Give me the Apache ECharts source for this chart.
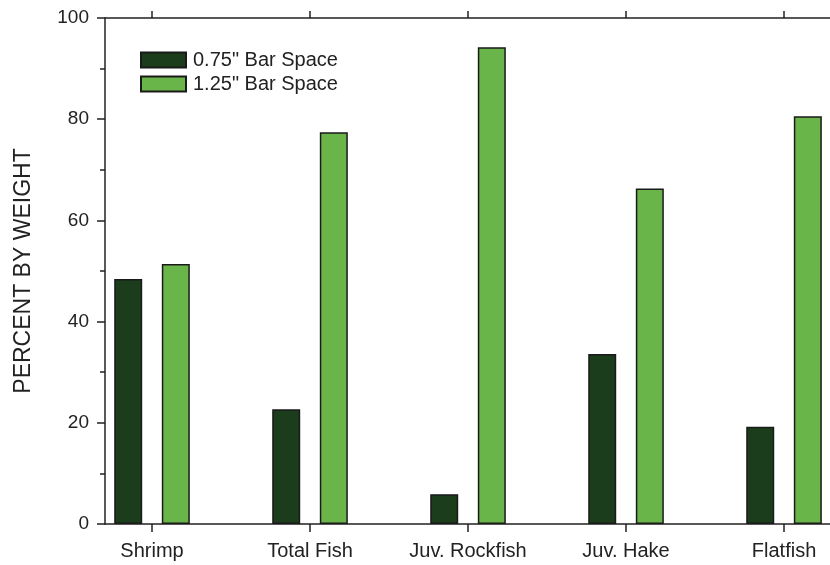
<!DOCTYPE html>
<html>
<head>
<meta charset="utf-8">
<script src="https://cdn.jsdelivr.net/npm/echarts@6/dist/echarts.min.js"></script>
<style>
  html, body { margin: 0; padding: 0; background: #fff; }
  #chart { width: 830px; height: 565px; }
</style>
</head>
<body>
<div id="chart"></div>
<script>
// Catch composition by prey group, two bar spacings
const categories = ['Shrimp', 'Total Fish', 'Juv. Rockfish', 'Juv. Hake', 'Flatfish'];
const seriesNames = ['0.75" Bar Space', '1.25" Bar Space'];
const narrowSpacing = [48.4, 22.7, 5.9, 33.6, 19.2];
const wideSpacing = [51.4, 77.4, 94.2, 66.3, 80.6];
const yTicks = [0, 20, 40, 60, 80, 100];

const FONT = '"Liberation Sans", Arial, sans-serif';
const TEXT = '#222';
const LINE = '#222';
const catIndex = categories.map((_, i) => i);

const toPairs = vals => vals.map((v, i) => [i, v]);

const chart = echarts.init(document.getElementById('chart'), null, { renderer: 'canvas' });

// category slots are 158px apart; the frame starts 47px left of the first slot
const xBase = {
  type: 'value',
  min: -0.2975,
  max: 4.291,
  splitLine: { show: false },
  axisLine: { show: true, onZero: false, lineStyle: { color: LINE, width: 1.5 } }
};

chart.setOption({
  animation: false,
  backgroundColor: '#fff',
  textStyle: { fontFamily: FONT },
  grid: { left: 105, right: 0, top: 18, bottom: 41, containLabel: false },
  legend: {
    left: 135,
    top: 45,
    orient: 'vertical',
    icon: 'rect',
    itemWidth: 45,
    itemHeight: 15,
    itemGap: 4,
    textStyle: { fontFamily: FONT, fontSize: 20, color: TEXT, padding: [0, 0, 0, 2] },
    data: seriesNames
  },
  xAxis: [
    Object.assign({}, xBase, {
      position: 'bottom',
      axisTick: { show: true, customValues: catIndex, length: 8, lineStyle: { color: LINE, width: 1.5 } },
      axisLabel: {
        show: true,
        customValues: catIndex,
        margin: 17,
        fontFamily: FONT,
        fontSize: 20,
        color: TEXT,
        formatter: v => categories[Math.round(v)] || ''
      }
    }),
    Object.assign({}, xBase, {
      position: 'top',
      axisTick: { show: true, customValues: catIndex, length: 7, lineStyle: { color: LINE, width: 1.5 } },
      axisLabel: { show: false }
    })
  ],
  yAxis: {
    type: 'value',
    min: 0,
    max: 100,
    interval: 20,
    name: 'PERCENT BY WEIGHT',
    nameLocation: 'middle',
    nameGap: 70,
    nameTextStyle: { fontFamily: FONT, fontSize: 23, color: TEXT },
    splitLine: { show: false },
    axisLine: { show: true, onZero: false, lineStyle: { color: LINE, width: 1.5 } },
    axisTick: { show: true, length: 8, lineStyle: { color: LINE, width: 1.5 } },
    minorTick: { show: true, splitNumber: 2, length: 5, lineStyle: { color: LINE, width: 1.5 } },
    axisLabel: {
      margin: 16,
      fontFamily: FONT,
      fontSize: 19,
      color: TEXT,
      customValues: yTicks
    }
  },
  series: [
    {
      name: seriesNames[0],
      type: 'bar',
      xAxisIndex: 0,
      barWidth: 28,
      barGap: '70%',
      itemStyle: { color: '#1b3d1c', borderColor: '#1a1a1a', borderWidth: 1.5 },
      data: toPairs(narrowSpacing)
    },
    {
      name: seriesNames[1],
      type: 'bar',
      xAxisIndex: 0,
      barWidth: 28,
      barGap: '70%',
      itemStyle: { color: '#6ab54a', borderColor: '#1a1a1a', borderWidth: 1.5 },
      data: toPairs(wideSpacing)
    }
  ]
});
</script>
</body>
</html>
